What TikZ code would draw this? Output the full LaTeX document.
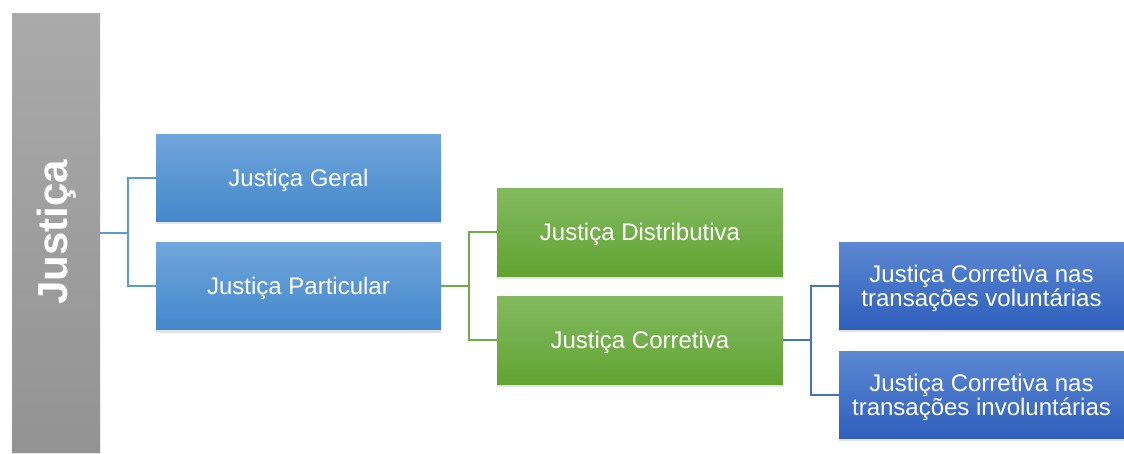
\documentclass[tikz,border=0pt]{standalone}
\usepackage{fontspec}
\setmainfont{Liberation Sans}
\usetikzlibrary{shadows}
\definecolor{gtop}{HTML}{AAAAAA}
\definecolor{gbot}{HTML}{939393}
\definecolor{btop}{HTML}{70A6DC}
\definecolor{bbot}{HTML}{4488CB}
\definecolor{grtop}{HTML}{83BA60}
\definecolor{grbot}{HTML}{62A333}
\definecolor{dtop}{HTML}{5C88D2}
\definecolor{dbot}{HTML}{2F5FBC}
\definecolor{bline}{HTML}{5B9BD5}
\definecolor{gline}{HTML}{70AD47}
\definecolor{dline}{HTML}{4472C4}
\tikzset{
  boxbase/.style={rectangle, draw=none, inner sep=2pt, text=white, align=center,
    font=\fontsize{24}{22.5}\selectfont, text depth=0pt,
    drop shadow={shadow xshift=0pt, shadow yshift=-3pt, opacity=0.22}},
  graybox/.style={boxbase, top color=gtop, bottom color=gbot, minimum width=88pt, minimum height=439pt},
  bluebox/.style={boxbase, top color=btop, bottom color=bbot, minimum width=285pt, minimum height=87pt},
  greenbox/.style={boxbase, top color=grtop, bottom color=grbot, minimum width=286pt, minimum height=88pt},
  dbox/.style={boxbase, top color=dtop, bottom color=dbot, minimum width=285pt, minimum height=87pt},
  conn/.style={line width=2pt},
}
\begin{document}
\begin{tikzpicture}[x=1pt,y=-1pt]
\useasboundingbox (0,0) rectangle (1124,453);
\node[graybox] (J) at (56,232.5) {};
\node[rotate=90, text=white, font=\fontsize{42}{46}\selectfont\bfseries] (Jt) at (57,232.5) {Justiça};
\node[bluebox] (geral) at (298.5,177.5) {Justiça Geral};
\node[bluebox] (part) at (298.5,286) {Justiça Particular};
\node[greenbox] (dist) at (640,232) {Justiça Distributiva};
\node[greenbox] (corr) at (640,340) {Justiça Corretiva};
\node[dbox] (vol) at (981.5,285.5) {Justiça Corretiva nas\\transações voluntárias};
\node[dbox] (invol) at (981.5,394.5) {Justiça Corretiva nas\\transações involuntárias};
\path (J.east) ++(28,0) coordinate (j1);
\path (part.east) ++(28,0) coordinate (j2);
\path (corr.east) ++(28,0) coordinate (j3);
\draw[conn, bline] (J.east) -- (j1);
\draw[conn, bline] (geral.west) -| (j1) |- (part.west);
\draw[conn, gline] (part.east) -- (j2);
\draw[conn, gline] (dist.west) -| (j2) |- (corr.west);
\draw[conn, dline] (corr.east) -- (j3);
\draw[conn, dline] (vol.west) -| (j3) |- (invol.west);
\end{tikzpicture}
\end{document}
